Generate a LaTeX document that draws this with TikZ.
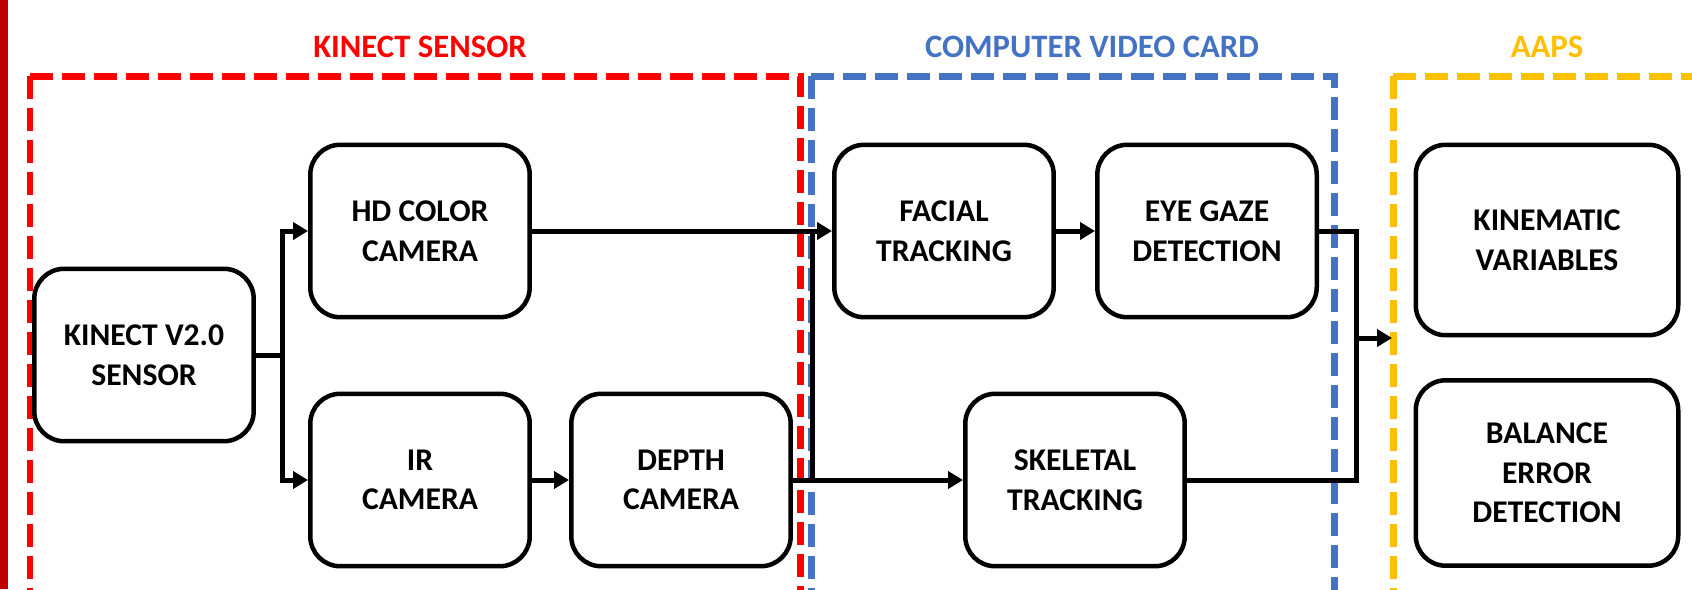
\documentclass[tikz,border=0pt]{standalone}
\usepackage{fontspec}
\setmainfont{Carlito}
\usetikzlibrary{arrows.meta,positioning}

\definecolor{kinred}{HTML}{FF0000}
\definecolor{cardblue}{HTML}{4472C4}
\definecolor{aapsyellow}{HTML}{FFC000}
\definecolor{edgered}{HTML}{C00000}

\tikzset{
  block/.style={draw, line width=0.09cm, rounded corners=0.6cm, minimum width=4.39cm,
    minimum height=3.45cm, align=center, font=\fontsize{18}{22.5}\selectfont\bfseries},
  group/.style={line width=0.14cm, dash pattern=on 0.46cm off 0.18cm},
  flow/.style={line width=0.1cm, -{Triangle[length=0.3cm,width=0.34cm]}},
  link/.style={line width=0.1cm},
  grouptitle/.style={font=\fontsize{18.6}{22}\selectfont\bfseries}
}

\begin{document}
\begin{tikzpicture}[x=0.02cm,y=-0.02cm]
\clip (0,0) rectangle (1692,589);
\fill[edgered] (0,0) rectangle (8,589);

% groups
\draw[group,kinred] (30,76) -- (800,76) -- (800,620);
\draw[group,kinred] (30,76) -- (30,620);
\draw[group,cardblue] (811,76) -- (1334,76) -- (1334,620);
\draw[group,cardblue] (811,76) -- (811,620);
\draw[group,aapsyellow] (1393,76) -- (1720,76);
\draw[group,aapsyellow] (1393,76) -- (1393,620);

\node[grouptitle,kinred] (kintitle) at (420,47) {KINECT SENSOR};
\node[grouptitle,cardblue] (cardtitle) at (1092,47) {COMPUTER VIDEO CARD};
\node[grouptitle,aapsyellow] (aapstitle) at (1547,47) {AAPS};

% blocks
\node[block] (kinect) at (144,355) {KINECT V2.0\\SENSOR};
\node[block] (hdcam) at (420,231) {HD COLOR\\CAMERA};
\node[block] (ircam) at (420,480) {IR\\CAMERA};
\node[block] (depthcam) at (681,480) {DEPTH\\CAMERA};
\node[block] (facial) at (944,231) {FACIAL\\TRACKING};
\node[block] (eyegaze) at (1207,231) {EYE GAZE\\DETECTION};
\node[block] (skeletal) at (1075,480) {SKELETAL\\TRACKING};
\node[block, minimum width=5.25cm, minimum height=3.81cm] (kinematic) at (1547,240) {KINEMATIC\\VARIABLES};
\node[block, minimum width=5.25cm, minimum height=3.71cm] (balance) at (1547,473) {BALANCE\\ERROR\\DETECTION};

% connectors
\coordinate (split) at (282,355);
\coordinate (merge) at (812,231);
\coordinate (join) at (1356,338);
\coordinate (aapsin) at (1392,338);

\draw[flow] (kinect) -- (split) |- (hdcam);
\draw[flow] (split) |- (ircam);
\draw[flow] (ircam) -- (depthcam);
\draw[flow] (hdcam) -- (facial);
\draw[flow] (depthcam) -- (skeletal);
\draw[link] (depthcam.east) -| (merge);
\draw[flow] (facial) -- (eyegaze);
\draw[link] (eyegaze.east) -| (join);
\draw[link] (skeletal.east) -| (join);
\draw[flow] (join) -- (aapsin);

\end{tikzpicture}
\end{document}
